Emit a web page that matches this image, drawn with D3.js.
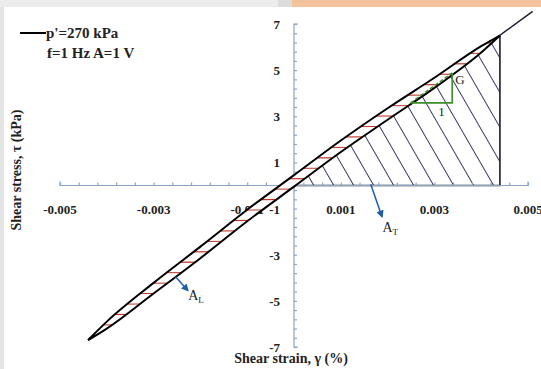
<!DOCTYPE html>
<html>
<head>
<meta charset="utf-8">
<script src="https://cdn.jsdelivr.net/npm/d3@7"></script>
<style>
   body {margin: 0; padding: 0; background: white; overflow: hidden;}
   #plotDiv {width: 541px; height: 369px;}
   text {font-family: "Liberation Serif", "DejaVu Serif", serif; fill: #222;}
</style>
</head>
<body>
<div id="plotDiv"></div>
<script>
//----------------------------------------------------------------------------------------------------
// hysteresis loop: shear strain (%) vs shear stress (kPa)
var strain       = [-0.0044, -0.004, -0.003, -0.002, -0.001, 0, 0.001, 0.002, 0.003, 0.004, 0.0044];
var upperStress  = [-6.7, -5.9, -4.22, -2.65, -1.05, 0.45, 1.95, 3.35, 4.67, 6.04, 6.5];
var lowerStress  = [-6.7, -6.2, -4.68, -3.15, -1.55, -0.05, 1.45, 2.85, 4.23, 5.76, 6.5];

var peakStrain = 0.0044;          // right edge of the A_T triangle
var peakStress = 6.5;
var secantEnd  = [0.0051, 7.55];  // secant line through origin, drawn past the peak

var gTriangle  = [[0.00249, 3.58], [0.00338, 3.58], [0.00338, 4.88]];

var xTicks      = [-0.005, -0.003, -0.001, 0.001, 0.003, 0.005];
var xTickLabels = ["-0.005", "-0.003", "-0.001", "0.001", "0.003", "0.005"];
var yTicks      = [7, 5, 3, 1, -1, -3, -5, -7];
var yTickLabels = ["7", "5", "3", "1", "-1", "-3", "-5", "-7"];

var legendLines = ["p'=270 kPa", "f=1 Hz A=1 V"];

var width = 541, height = 369;
var axisColor = "#8ba6c4";
var xScale, yScale, svg;
//----------------------------------------------------------------------------------------------------
function drawFrame()
{
   svg.append("rect").attr("x", 0).attr("y", 0).attr("width", 292).attr("height", 7).attr("fill", "#ececec");
   svg.append("rect").attr("x", 278).attr("y", 0).attr("width", 14).attr("height", 7).attr("fill", "#dcdcdc");
   svg.append("rect").attr("x", 292).attr("y", 0).attr("width", 249).attr("height", 7).attr("fill", "#f4c29d");
   svg.append("rect").attr("x", 0).attr("y", 7).attr("width", 4).attr("height", height - 7).attr("fill", "#e4e4e4");

} // drawFrame
//----------------------------------------------------------------------------------------------------
function drawAxes()
{
   var x0 = xScale(0), y0 = yScale(0);

      // x axis: minor ticks every 0.0004, labelled ones every 0.002
   var xAxis = d3.axisTop(xScale)
         .tickValues(d3.range(0, 26).map(function(i){ return -0.005 + i * 0.0004; }))
         .tickSize(3)
         .tickFormat("");

   var gx = svg.append("g")
      .attr("transform", "translate(0," + y0 + ")")
      .call(xAxis);
   gx.selectAll("path, line").attr("stroke", axisColor).attr("stroke-width", 1.2);
   gx.select("path").attr("d", "M" + xScale(-0.005) + ",-4V0H" + xScale(0.005) + "V-4");

   var yAxis = d3.axisRight(yScale)
         .tickValues(d3.range(0, 36).map(function(i){ return -7 + i * 0.4; }))
         .tickSize(3)
         .tickFormat("");

   var gy = svg.append("g")
      .attr("transform", "translate(" + x0 + ",0)")
      .call(yAxis);
   gy.selectAll("path, line").attr("stroke", axisColor).attr("stroke-width", 1.2);
   gy.select("path").attr("d", "M4," + yScale(7) + "H0V" + yScale(-7) + "H4");

   svg.selectAll(".xlab")
      .data(xTicks)
      .enter()
      .append("text")
      .attr("class", "xlab")
      .attr("x", function(d){ return xScale(d); })
      .attr("y", y0 + 28)
      .attr("text-anchor", "middle")
      .attr("font-size", 13)
      .attr("font-weight", "bold")
      .text(function(d, i){ return xTickLabels[i]; });

   svg.selectAll(".ylab")
      .data(yTicks)
      .enter()
      .append("text")
      .attr("class", "ylab")
      .attr("x", x0 - 14)
      .attr("y", function(d){ return yScale(d) + 5; })
      .attr("text-anchor", "end")
      .attr("font-size", 13)
      .attr("font-weight", "bold")
      .text(function(d, i){ return yTickLabels[i]; });

   svg.append("text")
      .attr("x", x0 - 3)
      .attr("y", 363)
      .attr("text-anchor", "middle")
      .attr("font-size", 14)
      .attr("font-weight", "bold")
      .text("Shear strain, \u03b3 (%)");

   svg.append("text")
      .attr("transform", "translate(21,170) rotate(-90)")
      .attr("text-anchor", "middle")
      .attr("font-size", 14)
      .attr("font-weight", "bold")
      .text("Shear stress, \u03c4 (kPa)");

} // drawAxes
//----------------------------------------------------------------------------------------------------
function drawTriangle()
{
   var tri = [[0, 0], [peakStrain, 0], [peakStrain, peakStress]];
   var triPath = d3.line()
      .x(function(d){ return xScale(d[0]); })
      .y(function(d){ return yScale(d[1]); });

   var defs = svg.append("defs");
   var pat = defs.append("pattern")
      .attr("id", "hatch")
      .attr("patternUnits", "userSpaceOnUse")
      .attr("width", 17.3)
      .attr("height", 40)
      .attr("patternTransform", "translate(313,185) rotate(-30)");
   pat.append("line")
      .attr("x1", 0).attr("y1", -5).attr("x2", 0).attr("y2", 45)
      .attr("stroke", "#1c1c4c")
      .attr("stroke-width", 1.7);

   svg.append("path")
      .attr("d", triPath(tri) + "Z")
      .attr("fill", "url(#hatch)")
      .attr("stroke", "none");

   svg.append("path")
      .attr("d", triPath([[0, 0], [peakStrain, 0], [peakStrain, peakStress]]))
      .attr("fill", "none")
      .attr("stroke", "#1a1a2e")
      .attr("stroke-width", 1.6);

   svg.append("path")
      .attr("d", triPath([[0, 0], secantEnd]))
      .attr("fill", "none")
      .attr("stroke", "#1a1a2e")
      .attr("stroke-width", 1.4);

} // drawTriangle
//----------------------------------------------------------------------------------------------------
function drawLoop()
{
   var upper = strain.map(function(x, i){ return [x, upperStress[i]]; });
   var lower = strain.map(function(x, i){ return [x, lowerStress[i]]; });

   var line = d3.line()
      .x(function(d){ return xScale(d[0]); })
      .y(function(d){ return yScale(d[1]); })
      .curve(d3.curveMonotoneX);

   var loopD = line(lower) + "L" + line(upper.slice().reverse()).slice(1) + "Z";

   svg.append("clipPath")
      .attr("id", "loopClip")
      .append("path")
      .attr("d", loopD);

   svg.append("path")
      .attr("d", loopD)
      .attr("fill", "white")
      .attr("stroke", "none");

      // red hatching of the loop area A_L
   var rungs = d3.range(-6.5, 6.6, 0.45);
   svg.append("g")
      .attr("clip-path", "url(#loopClip)")
      .selectAll("line")
      .data(rungs)
      .enter()
      .append("line")
      .attr("x1", xScale(-0.005))
      .attr("x2", xScale(0.005))
      .attr("y1", function(d){ return yScale(d); })
      .attr("y2", function(d){ return yScale(d) - 2; })
      .attr("stroke", "#c0392b")
      .attr("stroke-width", 1.1);

   svg.append("path")
      .attr("d", line(upper))
      .attr("fill", "none")
      .attr("stroke", "black")
      .attr("stroke-width", 2);

   svg.append("path")
      .attr("d", line(lower))
      .attr("fill", "none")
      .attr("stroke", "black")
      .attr("stroke-width", 2);

} // drawLoop
//----------------------------------------------------------------------------------------------------
function drawAnnotations()
{
   var triPath = d3.line()
      .x(function(d){ return xScale(d[0]); })
      .y(function(d){ return yScale(d[1]); });

   svg.append("path")
      .attr("d", triPath(gTriangle))
      .attr("fill", "none")
      .attr("stroke", "#3b8f2a")
      .attr("stroke-width", 1.6);

   svg.append("path")
      .attr("d", triPath([gTriangle[0], gTriangle[2]]))
      .attr("fill", "none")
      .attr("stroke", "#3b8f2a")
      .attr("stroke-width", 1.4)
      .attr("stroke-dasharray", "4,2");

   svg.append("text").attr("x", xScale(gTriangle[2][0]) + 3).attr("y", yScale(4.4))
      .attr("font-size", 13).text("G");
   svg.append("text").attr("x", xScale(0.00308)).attr("y", yScale(3.0))
      .attr("font-size", 13).text("1");

   var defs = svg.append("defs");
   defs.append("marker")
      .attr("id", "arrow")
      .attr("viewBox", "0 0 10 10")
      .attr("refX", 8).attr("refY", 5)
      .attr("markerWidth", 5).attr("markerHeight", 5)
      .attr("orient", "auto")
      .append("path")
      .attr("d", "M0,0L10,5L0,10Z")
      .attr("fill", "#1f5ea8");

      // arrows pointing at the two areas
   var arrows = [[[0.00164, 0.05], [0.00188, -1.35]], [[-0.00253, -3.95], [-0.00227, -4.55]]];
   svg.selectAll(".arrow")
      .data(arrows)
      .enter()
      .append("path")
      .attr("class", "arrow")
      .attr("d", function(d){ return triPath(d); })
      .attr("stroke", "#1f5ea8")
      .attr("stroke-width", 1.5)
      .attr("marker-end", "url(#arrow)");

   var tl = svg.append("text").attr("x", xScale(0.00189)).attr("y", yScale(-2.0)).attr("font-size", 14);
   tl.append("tspan").text("A");
   tl.append("tspan").attr("dy", 3).attr("font-size", 9).text("T");

   var ll = svg.append("text").attr("x", xScale(-0.00226)).attr("y", yScale(-4.95)).attr("font-size", 14);
   ll.append("tspan").text("A");
   ll.append("tspan").attr("dy", 3).attr("font-size", 9).text("L");

} // drawAnnotations
//----------------------------------------------------------------------------------------------------
function drawLegend()
{
   svg.append("line")
      .attr("x1", 20).attr("x2", 46)
      .attr("y1", 33).attr("y2", 33)
      .attr("stroke", "black")
      .attr("stroke-width", 2);

   svg.selectAll(".legend")
      .data(legendLines)
      .enter()
      .append("text")
      .attr("class", "legend")
      .attr("x", function(d, i){ return i == 0 ? 46 : 47; })
      .attr("y", function(d, i){ return 38 + i * 20; })
      .attr("font-size", 15)
      .attr("font-weight", "bold")
      .text(function(d){ return d; });

} // drawLegend
//----------------------------------------------------------------------------------------------------
function d3plot()
{
   xScale = d3.scaleLinear().domain([-0.005, 0.005]).range([60, 528]);
   yScale = d3.scaleLinear().domain([-7, 7]).range([347, 24]);

   svg = d3.select("#plotDiv")
      .append("svg")
      .attr("width", width)
      .attr("height", height);

   drawFrame();
   drawTriangle();
   drawAxes();
   drawLoop();
   drawAnnotations();
   drawLegend();

} // d3plot
//----------------------------------------------------------------------------------------------------
d3plot();
</script>
</body>
</html>
